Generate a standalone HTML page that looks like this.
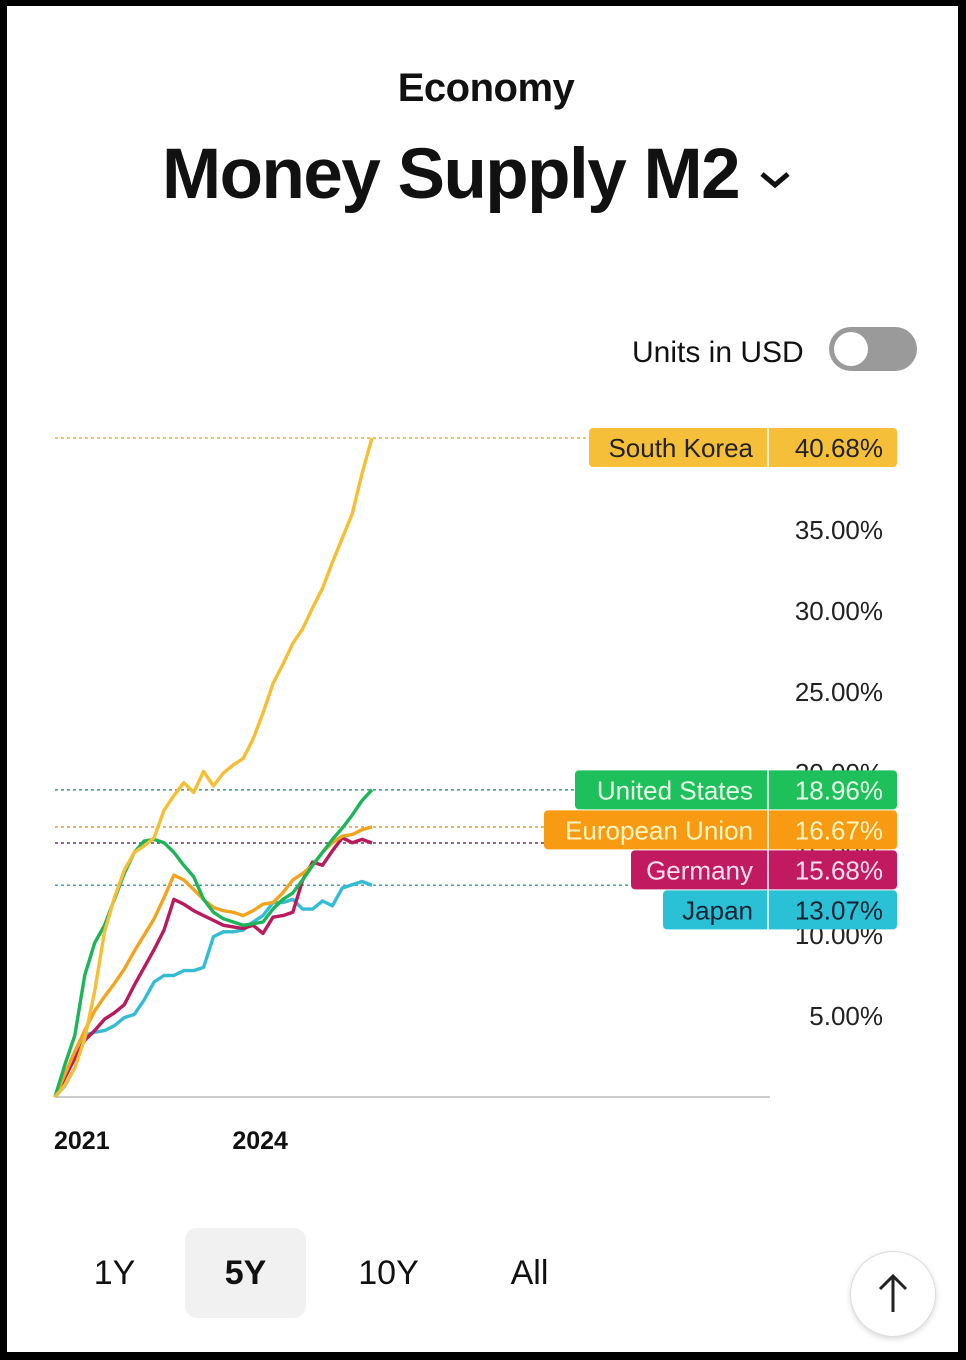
<!DOCTYPE html>
<html><head><meta charset="utf-8">
<style>
html,body{margin:0;padding:0;background:#000;}
#frame{position:absolute;left:7px;top:6px;width:951px;height:1346px;background:#fff;overflow:hidden;font-family:"Liberation Sans",sans-serif;color:#111;}
.abs{position:absolute;}
#eco{left:0;width:958px;top:60px;text-align:center;font-size:40px;font-weight:bold;letter-spacing:-0.5px;}
#title{left:155px;top:128px;font-size:71px;font-weight:bold;letter-spacing:-1.5px;white-space:nowrap;}
#units{left:625px;top:330px;font-size:30px;}
#toggle{left:822px;top:321px;width:88px;height:44px;border-radius:22px;background:#9a9a9a;}
#knob{left:5px;top:5px;width:34px;height:34px;border-radius:50%;background:#fff;}
.btn{top:1222px;width:121px;height:90px;line-height:90px;text-align:center;font-size:34px;border-radius:12px;}
#up{left:843px;top:1245px;width:84px;height:84px;border-radius:50%;border:1px solid #ddd;box-shadow:0 2px 6px rgba(0,0,0,0.15);background:#fff;}
</style></head>
<body>
<div id="frame">
<div class="abs" id="eco">Economy</div>
<div class="abs" id="title">Money Supply M2 <svg width="36" height="24" viewBox="0 0 36 24" style="vertical-align:middle"><path d="M5 7 L18 18 L31 7" stroke="#111" stroke-width="5" fill="none"/></svg></div>
<div class="abs" id="units">Units in USD</div>
<div class="abs" id="toggle"><div class="abs" id="knob"></div></div>
<svg class="abs" id="chart" style="left:-7px;top:-6px" width="966" height="1360"></svg>
<div class="abs btn" style="left:47px">1Y</div>
<div class="abs btn" style="left:178px;background:#f1f1f1;font-weight:bold">5Y</div>
<div class="abs btn" style="left:321px">10Y</div>
<div class="abs btn" style="left:462px">All</div>
<div class="abs" id="up"><svg width="84" height="84"><path d="M42 60 L42 24 M29 37 L42 24 L55 37" stroke="#222" stroke-width="3" fill="none"/></svg></div>
</div>
<script>
const months = [0,2,4,6,8,10,12,14,16,18,20,22,24,26,28,30,32,34,36,38,40,42,44,46,48,50,52,54,56,58,60,62,64];
const southKorea = [0,0.74,1.8,3.6,6.5,10.2,12.3,14.0,15.1,15.5,16.0,17.7,18.6,19.4,18.8,20.1,19.2,20.0,20.5,20.9,22.1,23.7,25.5,26.7,28.0,28.9,30.2,31.4,33.0,34.5,36.0,38.5,40.68];
const unitedStates = [0,2.0,3.8,7.5,9.5,10.6,12.2,13.8,15.1,15.8,15.9,15.7,15.1,14.3,13.6,12.2,11.4,11.0,10.8,10.6,10.7,10.8,11.6,12.2,12.6,13.4,14.3,15.1,15.9,16.6,17.4,18.3,18.96];
const europeanUnion = [0,1.4,2.8,4.1,5.3,6.2,7.0,7.9,9.0,10.0,11.0,12.3,13.7,13.4,12.8,12.2,11.7,11.5,11.4,11.2,11.5,11.9,12.0,12.6,13.4,13.8,14.3,15.1,15.7,16.1,16.2,16.5,16.67];
const germany = [0,1.2,2.4,3.5,4.1,4.8,5.2,5.7,6.9,8.0,9.1,10.3,12.2,11.9,11.5,11.2,10.9,10.6,10.5,10.4,10.6,10.1,11.1,11.2,11.4,13.4,14.5,14.3,15.2,16.0,15.7,15.9,15.68];
const japan = [0,0.7,1.8,3.8,4.0,4.1,4.4,4.9,5.1,6.0,7.1,7.5,7.5,7.8,7.8,8.0,9.9,10.2,10.2,10.3,10.8,11.2,12.0,12.0,12.2,11.6,11.6,12.1,11.8,12.9,13.1,13.3,13.07];
const seriesNames = ["South Korea","United States","European Union","Germany","Japan"];
const yTicks = [5,10,15,20,25,30,35];
const xTickLabels = ["2021","2024"];
const xTickMonths = [0,36];

const NS="http://www.w3.org/2000/svg";
const svg=document.getElementById('chart');
const X0=55, PXM=(372-55)/64, Y0=1097, PXV=16.2;
const xs=m=>X0+m*PXM, ys=v=>Y0-v*PXV;
function mk(t,a){const e=document.createElementNS(NS,t);for(const k in a)e.setAttribute(k,a[k]);svg.appendChild(e);return e;}
const series=[
 {name:seriesNames[0],vals:southKorea,color:"#f4bf35",box:"#f6bf3a",txt:"#222",dot:"#e0b040"},
 {name:seriesNames[1],vals:unitedStates,color:"#1db55a",box:"#1ec05c",txt:"#e8ffe8",dot:"#3a9a7a"},
 {name:seriesNames[2],vals:europeanUnion,color:"#f2a41f",box:"#f89b12",txt:"#fff5c0",dot:"#d8a040"},
 {name:seriesNames[3],vals:germany,color:"#b81a5c",box:"#c21a60",txt:"#ffe0f0",dot:"#6a3a6a"},
 {name:seriesNames[4],vals:japan,color:"#34bcd4",box:"#2ac0d6",txt:"#123",dot:"#4aa0b0"}
];
yTicks.forEach(t=>{
 const e=mk('text',{x:883,y:ys(t)+9,'text-anchor':'end','font-size':26,fill:'#222','font-family':'Liberation Sans, sans-serif'});
 
 
 e.textContent=t.toFixed(2)+"%";
});
const ax=mk('line',{x1:55,y1:Y0,x2:770,y2:Y0,stroke:'#bbb','stroke-width':1.5});


xTickLabels.forEach((l,i)=>{
 const e=mk('text',{x:xs(xTickMonths[i])-1,y:1149,'font-size':25,'font-weight':'bold',fill:'#111','font-family':'Liberation Sans, sans-serif'});
 
 
 e.textContent=l;
});
const H=39; let prevBottom=428-1;
const order=series.map((s,i)=>i).sort((a,b)=>series[b].vals[series[b].vals.length-1]-series[a].vals[series[a].vals.length-1]);
const boxTop={};
order.forEach(i=>{const v=series[i].vals[series[i].vals.length-1];let t=ys(v)-H/2;if(t<prevBottom+1)t=prevBottom+1;boxTop[i]=t;prevBottom=t+H;});
series.forEach((s,i)=>{
 const last=s.vals[s.vals.length-1];
 const w=[308,322,353,266,234][i];
 const dl=mk('line',{x1:55,y1:ys(last),x2:897-w,y2:ys(last),stroke:s.dot,'stroke-width':1.5,'stroke-dasharray':'3,3'});
 
 
});
[4,3,2,1,0].forEach(i=>{
 const s=series[i];
 const p=mk('polyline',{points:s.vals.map((v,j)=>xs(months[j]).toFixed(1)+","+ys(v).toFixed(1)).join(" "),fill:'none',stroke:s.color,'stroke-width':3.4,'stroke-linejoin':'round'});
 
 
});
series.forEach((s,i)=>{
 const last=s.vals[s.vals.length-1];
 const w=[308,322,353,266,234][i];
 const t=boxTop[i];
 const g=document.createElementNS(NS,'g');svg.appendChild(g);
 
 
 const r=document.createElementNS(NS,'rect');
 [['x',897-w],['y',t],['width',w],['height',H],['rx',4],['fill',s.box]].forEach(a=>r.setAttribute(a[0],a[1]));g.appendChild(r);
 const d=document.createElementNS(NS,'line');
 [['x1',768],['x2',768],['y1',t],['y2',t+H],['stroke','#fff'],['stroke-width',1.5]].forEach(a=>d.setAttribute(a[0],a[1]));g.appendChild(d);
 const n=document.createElementNS(NS,'text');
 [['x',753],['y',t+29],['text-anchor','end'],['font-size',26],['fill',s.txt],['font-family','Liberation Sans, sans-serif']].forEach(a=>n.setAttribute(a[0],a[1]));
 n.textContent=s.name;g.appendChild(n);
 const v=document.createElementNS(NS,'text');
 [['x',883],['y',t+29],['text-anchor','end'],['font-size',26],['fill',s.txt],['font-family','Liberation Sans, sans-serif']].forEach(a=>v.setAttribute(a[0],a[1]));
 v.textContent=last.toFixed(2)+"%";g.appendChild(v);
});
</script>
</body></html>
